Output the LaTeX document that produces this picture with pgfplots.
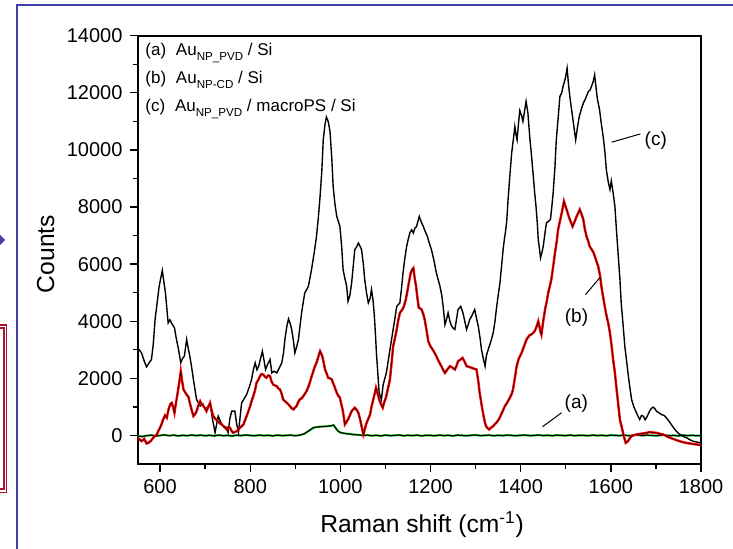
\documentclass[border=0pt]{standalone}
\usepackage{fontspec}
\setmainfont{Liberation Sans}
\usepackage{pgfplots}
\pgfplotsset{compat=1.18}
\definecolor{slideblue}{RGB}{64,64,170}
\definecolor{boxred}{RGB}{170,20,50}
\definecolor{curvegreen}{RGB}{0,170,0}
\newcommand{\sub}[1]{\raisebox{-2.2pt}{\fontsize{5.8}{6}\selectfont #1}}
\begin{document}
\begin{tikzpicture}
\useasboundingbox (0,0) rectangle (366.5pt,274.5pt);
% slide decorations
\draw[slideblue, line width=1pt] (8.35pt,0) -- (8.35pt,272.15pt) -- (366.5pt,272.15pt);
\fill[slideblue] (0,152pt) -- (2.6pt,154.5pt) -- (0,157pt) -- cycle;
\draw[boxred, line width=0.6pt] (0,112pt) -- (3.35pt,112pt) -- (3.35pt,28.15pt) -- (0,28.15pt);
\draw[boxred, line width=0.6pt] (0,110.5pt) -- (2pt,110.5pt) -- (2pt,30pt) -- (0,30pt);
\begin{axis}[
  at={(68.75pt,42.5pt)}, anchor=south west,
  scale only axis, width=281.75pt, height=214.15pt,
  xmin=550, xmax=1800, ymin=-1000, ymax=14000,
  xtick={600,800,...,1800}, minor x tick num=1,
  ytick={0,2000,...,14000}, minor y tick num=1,
  xtick pos=bottom, ytick pos=left,
  tick align=outside,
  major tick length=4pt, minor tick length=2.5pt,
  axis line style={line width=1pt},
  every tick/.style={line width=0.7pt, black},
  scaled y ticks=false, scaled x ticks=false,
  /pgf/number format/assume math mode=true,
  /pgf/number format/1000 sep={},
  tick label style={font=\fontsize{10}{12}\selectfont},
  label style={font=\fontsize{12.3}{14}\selectfont},
  ylabel={Counts},
  xlabel={Raman shift (cm\textsuperscript{-1})},
  ylabel style={at={(axis description cs:-0.163,0.49)}, anchor=center},
  xlabel style={at={(axis description cs:0.505,-0.141)}, anchor=center},
]
\pgfplotstableread{
x y
550 -20
560 -40
570 -10
580 10
590 -20
600 0
610 20
620 -10
630 10
640 -15
650 5
660 -10
670 15
680 -5
690 10
700 -10
710 5
720 -15
730 10
740 -5
750 0
760 -20
770 10
780 -5
790 15
800 0
810 -10
820 10
830 -5
840 5
850 -15
860 10
870 -5
880 0
890 10
900 -10
910 10
920 60
930 160
940 270
950 300
960 310
970 320
980 340
985 360
990 250
995 150
1000 100
1010 70
1020 50
1030 30
1040 20
1050 0
1060 10
1070 -10
1080 5
1090 -15
1100 10
1110 -5
1120 0
1130 15
1140 -10
1150 5
1160 -5
1170 10
1180 -15
1190 5
1200 0
1210 -10
1220 10
1230 -5
1240 5
1250 -15
1260 10
1270 0
1280 -10
1290 5
1300 15
1310 -5
1320 0
1330 10
1340 -10
1350 5
1360 -5
1370 10
1380 0
1390 -10
1400 5
1410 10
1420 -5
1430 0
1440 15
1450 -5
1460 5
1470 -10
1480 10
1490 0
1500 -5
1510 10
1520 -10
1530 5
1540 0
1550 -10
1560 10
1570 -5
1580 5
1590 -10
1600 10
1610 0
1620 -5
1630 10
1640 -10
1650 5
1660 15
1670 -5
1680 10
1690 0
1700 -10
1710 5
1720 10
1730 -5
1740 0
1750 -15
1760 10
1770 -5
1780 5
1790 -10
1800 0
}\dataA
\pgfplotstableread{
x y
550 -80
555 -150
559 -200
565 -120
570 -280
574 -260
579 -200
585 -80
589 -20
593 35
596 150
600 270
604 420
607 560
611 700
615 620
618 850
620 970
623 1100
626 1140
629 1000
632 790
635 1100
639 1490
643 1900
646 2250
649 1900
652 1610
656 1500
659 1430
663 1350
666 1140
670 900
674 676
678 750
681 850
685 1050
689 1200
692 1100
696 1030
700 950
703 850
707 1000
711 1140
714 900
718 676
723 580
728 500
733 420
737 385
742 300
748 210
751 280
755 270
759 150
762 93
766 120
770 150
774 200
777 270
781 320
785 385
789 550
792 676
796 850
800 1030
803 1200
807 1380
811 1600
814 1840
818 1950
822 2080
825 2150
829 2130
833 2050
836 2020
840 2100
844 2080
847 1900
851 1780
855 1750
859 1725
862 1650
866 1610
870 1450
873 1260
877 1200
881 1140
884 1100
888 1030
892 950
896 910
899 970
903 1030
906 1150
910 1260
914 1300
918 1380
921 1450
925 1550
929 1700
932 1840
936 2050
940 2250
943 2400
947 2540
951 2750
955 2950
958 2850
960 2775
963 2550
966 2310
970 2150
973 2020
977 2000
981 1960
984 1830
988 1670
992 1490
995 1400
999 1320
1002 1100
1005 910
1008 600
1010 385
1014 480
1017 560
1021 700
1025 850
1029 920
1032 970
1036 900
1040 790
1044 550
1047 326
1051 35
1054 200
1057 385
1061 550
1066 735
1069 1000
1073 1260
1076 1450
1079 1670
1083 1450
1086 1260
1090 1100
1094 970
1097 1150
1101 1320
1105 1600
1110 1960
1114 2600
1117 3120
1121 3400
1125 3710
1128 4000
1132 4290
1137 4400
1141 4520
1145 4750
1148 4990
1152 5350
1156 5690
1159 5800
1162 5860
1165 5500
1168 5220
1171 4800
1174 4470
1177 4450
1180 4410
1184 4250
1187 4060
1191 3700
1195 3300
1199 3150
1202 3070
1207 2950
1213 2775
1218 2600
1224 2425
1228 2300
1232 2190
1237 2300
1243 2425
1248 2380
1254 2310
1258 2450
1261 2600
1266 2650
1271 2715
1275 2600
1280 2425
1285 2400
1291 2370
1296 2340
1302 2310
1306 1900
1309 1490
1313 1100
1317 735
1320 500
1323 326
1327 250
1330 210
1334 270
1339 326
1343 400
1346 443
1351 550
1355 676
1360 850
1365 1030
1370 1150
1376 1320
1380 1450
1383 1610
1387 2000
1391 2425
1396 2700
1402 2890
1408 3150
1413 3360
1419 3500
1425 3550
1431 3650
1435 3800
1439 4000
1443 3700
1446 3530
1450 4000
1454 4410
1458 4700
1461 4990
1465 5250
1468 5460
1472 5900
1476 6390
1480 6800
1483 7210
1487 7500
1491 7790
1496 8200
1499 8050
1502 7910
1506 7700
1509 7560
1512 7450
1515 7320
1520 7500
1524 7670
1528 7800
1531 7910
1535 7750
1539 7560
1542 7250
1546 6970
1550 6800
1553 6620
1558 6500
1562 6390
1567 6150
1572 5920
1576 5600
1579 5220
1584 4750
1589 4290
1594 3950
1598 3590
1602 3100
1605 2660
1609 2200
1612 1725
1616 1150
1620 560
1624 300
1627 93
1630 -100
1633 -260
1638 -200
1642 -100
1646 -25
1651 10
1657 35
1664 50
1672 70
1679 90
1686 117
1694 100
1701 93
1708 60
1716 35
1723 -20
1731 -80
1738 -120
1745 -160
1752 -200
1760 -235
1767 -260
1775 -280
1782 -300
1790 -315
1796 -330
1800 -350
}\dataB
% (a) Au_NP_PVD / Si
\addplot[curvegreen, line width=1pt] table {\dataA};
\addplot[black, line width=0.5pt] table {\dataA};
% (c) Au_NP_PVD / macroPS / Si
\addplot[black, line width=0.7pt] coordinates {
(550,3070)(559,2890)(565,2600)(570,2400)(576,2550)(581,2660)(585,3200)(589,4060)(594,4700)(598,5220)
(605,5780)(612,4990)(618,3940)(622,4050)(626,3920)(632,3770)(636,3400)(641,3010)(646,2540)(650,2700)
(654,2780)(659,3360)(662,3100)(666,2780)(670,2400)(674,1960)(681,1260)(689,1030)(695,1100)(700,910)
(706,1000)(711,1140)(716,600)(722,100)(729,680)(735,450)(740,330)(746,300)(751,100)(755,600)
(759,850)(766,850)(770,400)(774,100)(778,700)(781,1140)(787,1300)(792,1430)(798,1700)(803,1960)
(807,2300)(811,2540)(815,2300)(819,2430)(823,2700)(827,2950)(831,2600)(834,2310)(839,2500)(844,2660)
(848,2190)(853,2250)(859,2190)(864,2350)(870,2540)(874,2900)(877,3360)(881,3800)(885,4080)(889,3900)
(892,3710)(896,3300)(899,2890)(903,3100)(907,3360)(911,3900)(914,4290)(918,4700)(921,4990)(925,5100)
(929,5220)(933,5550)(936,5810)(942,6400)(947,6970)(951,7600)(955,8370)(959,9300)(962,10350)(966,10900)
(969,11150)(973,11000)(977,10650)(981,9700)(984,8720)(988,8100)(992,7670)(999,7320)(1003,6600)(1006,5810)
(1010,5500)(1014,5220)(1017,4700)(1021,4900)(1025,5340)(1029,6000)(1032,6510)(1036,6600)(1040,6740)(1043,6650)
(1047,6510)(1051,6000)(1054,5460)(1058,5000)(1062,4640)(1066,4800)(1069,5110)(1072,4800)(1075,4290)(1078,3500)
(1080,2890)(1083,2200)(1086,1490)(1091,1260)(1095,1780)(1102,2190)(1106,2600)(1110,3010)(1114,3400)(1117,3710)
(1121,4100)(1125,4520)(1132,4640)(1136,5200)(1139,5690)(1143,6200)(1147,6620)(1151,6900)(1154,7090)(1158,7200)
(1162,7090)(1165,7250)(1169,7320)(1175,7670)(1180,7450)(1184,7320)(1188,7150)(1193,6970)(1197,6750)(1202,6510)
(1208,6100)(1213,5690)(1217,5450)(1221,5220)(1225,4900)(1228,4520)(1232,3880)(1236,4100)(1239,4290)(1243,4000)
(1247,3820)(1251,3750)(1254,3710)(1258,4100)(1261,4410)(1267,4520)(1272,4290)(1276,4000)(1280,3710)(1284,3900)
(1287,4060)(1292,4200)(1298,4410)(1302,4100)(1306,3820)(1310,3400)(1313,3010)(1317,2700)(1321,2425)(1324,2800)
(1328,3010)(1334,3300)(1339,3590)(1343,4000)(1346,4410)(1350,4900)(1354,5340)(1358,6000)(1361,6510)(1364,6900)
(1366,7090)(1369,7500)(1372,8250)(1376,9100)(1380,9890)(1384,10400)(1387,10820)(1390,10500)(1392,10350)(1395,10900)
(1398,11380)(1402,11200)(1405,11000)(1409,11400)(1412,11700)(1416,11300)(1420,10470)(1424,9800)(1428,9070)(1431,8500)
(1434,8020)(1437,7400)(1439,6860)(1442,6500)(1444,6220)(1447,6400)(1450,6620)(1454,7100)(1457,7440)(1462,7500)
(1466,7560)(1469,8000)(1472,8490)(1476,9400)(1479,10350)(1483,11100)(1487,11870)(1491,12000)(1494,12220)(1499,12500)
(1503,12860)(1506,12300)(1509,11870)(1513,11400)(1516,11050)(1519,10700)(1522,10350)(1526,10800)(1530,11170)(1534,11400)
(1539,11640)(1544,11800)(1550,12040)(1554,12100)(1557,12220)(1561,12400)(1564,12630)(1567,12200)(1570,11800)(1575,11400)
(1579,10900)(1583,10470)(1587,9900)(1590,9300)(1594,8900)(1598,8610)(1601,8910)(1605,8500)(1609,8020)(1612,7300)
(1616,6390)(1620,5500)(1623,4640)(1627,3900)(1631,3120)(1635,2600)(1638,2190)(1642,1700)(1646,1260)(1651,1000)
(1657,790)(1661,650)(1664,560)(1668,700)(1672,676)(1676,550)(1679,618)(1683,750)(1686,850)(1690,950)
(1694,990)(1698,930)(1701,850)(1706,800)(1712,735)(1718,700)(1723,618)(1729,500)(1734,385)(1740,250)
(1745,150)(1751,60)(1757,0)(1763,-50)(1768,-80)(1775,-150)(1782,-200)(1790,-230)(1800,-260)
};
% (b) Au_NP-CD / Si
\addplot[red, line width=1.2pt] table {\dataB};
\addplot[black, line width=0.25pt] table {\dataB};
% legend text
\node[anchor=base west, inner sep=0, font=\fontsize{8.5}{10}\selectfont] at (rel axis cs:0.0133,0.953) {(a)\hspace{4.9pt}Au\sub{NP\_PVD} / Si};
\node[anchor=base west, inner sep=0, font=\fontsize{8.5}{10}\selectfont] at (rel axis cs:0.0133,0.888) {(b)\hspace{4.9pt}Au\sub{NP-CD} / Si};
\node[anchor=base west, inner sep=0, font=\fontsize{8.5}{10}\selectfont] at (rel axis cs:0.0133,0.822) {(c)\hspace{4.9pt}Au\sub{NP\_PVD} / macroPS / Si};
% curve labels
\draw[black, line width=0.5pt] (axis cs:1601.5,10270) -- (axis cs:1665.7,10560);
\node[font=\fontsize{9.5}{11}\selectfont, inner sep=0] at (axis cs:1699.7,10316) {(c)};
\draw[black, line width=0.5pt] (axis cs:1543.8,4931) -- (axis cs:1575.5,5525);
\node[font=\fontsize{9.5}{11}\selectfont, inner sep=0] at (axis cs:1523.8,4144) {(b)};
\draw[black, line width=0.5pt] (axis cs:1448.4,304) -- (axis cs:1490.6,794);
\node[font=\fontsize{9.5}{11}\selectfont, inner sep=0] at (axis cs:1523.4,1119) {(a)};
\end{axis}
\end{tikzpicture}
\end{document}
